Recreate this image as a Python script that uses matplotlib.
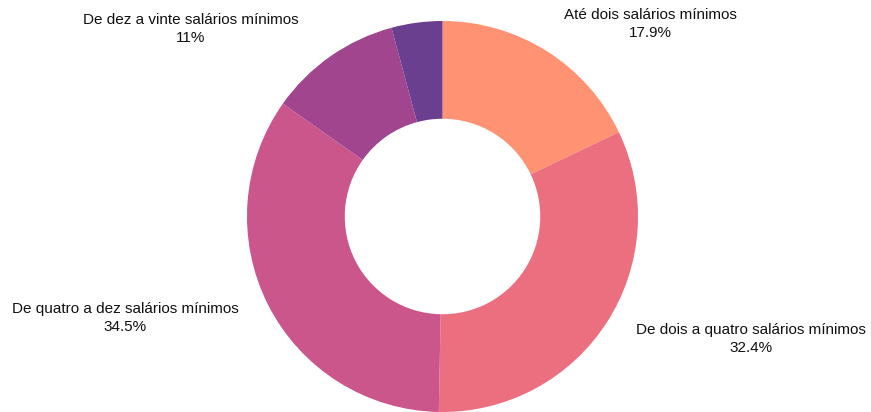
import matplotlib
matplotlib.use("Agg")
import matplotlib.pyplot as plt

categories = [
    "Até dois salários mínimos",
    "De dois a quatro salários mínimos",
    "De quatro a dez salários mínimos",
    "De dez a vinte salários mínimos",
    "",
]
shares = [17.9, 32.4, 34.5, 11.0, 4.2]
share_labels = ["17.9%", "32.4%", "34.5%", "11%", ""]
colors = ["#FE9273", "#EC6F80", "#CB568B", "#A0458E", "#6A3F90"]

W, H = 871, 412
fig = plt.figure(figsize=(W / 100, H / 100), dpi=100)
ax = fig.add_axes([0, 0, 1, 1])

cx, cy, r = 442.5, H - 216.5, 195.5
ax.pie(
    shares,
    colors=colors,
    startangle=90,
    counterclock=False,
    center=(cx, cy),
    radius=r,
    wedgeprops=dict(width=r * 0.5, linewidth=0),
    frame=True,
)
ax.set_xlim(0, W)
ax.set_ylim(0, H)
ax.set_aspect("equal")
ax.axis("off")

# label anchors (pixel positions, top-left origin)
label_pos = [(650, 24), (751, 339), (125, 318), (191, 29)]
for (x, y), name, pct in zip(label_pos, categories, share_labels):
    ax.text(x, H - y, f"{name}\n{pct}", ha="center", va="center",
            fontsize=11, family="Liberation Sans", color="#111111",
            linespacing=1.45)

fig.savefig("out.png", dpi=100)
